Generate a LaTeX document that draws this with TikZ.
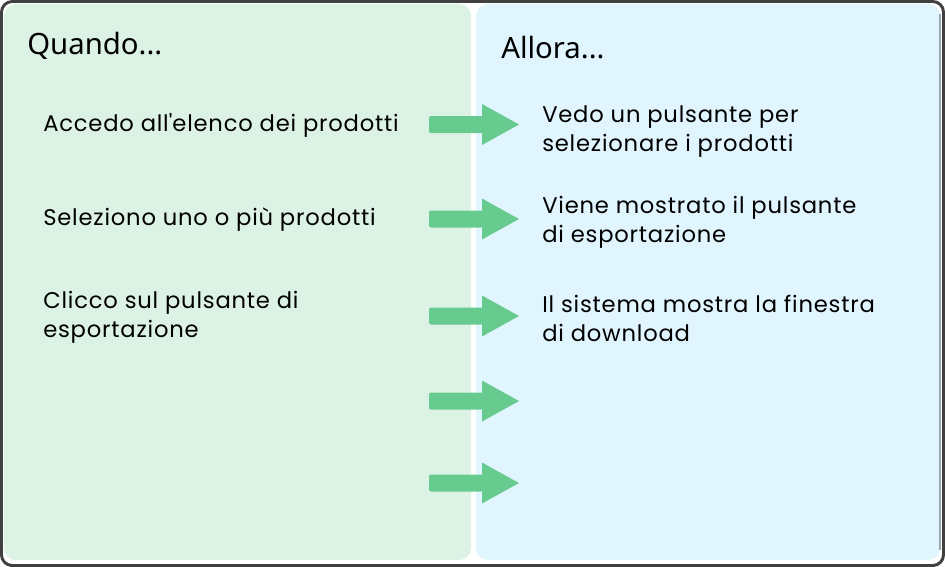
\documentclass[tikz,border=0pt]{standalone}
\usepackage{fontspec}
\setmainfont{Poppins}[LetterSpace=3.5]
\newfontfamily\headfont{Noto Sans}
\definecolor{framecol}{HTML}{404040}
\definecolor{greenpanel}{HTML}{DCF2E5}
\definecolor{bluepanel}{HTML}{E0F5FE}
\definecolor{arrowgreen}{HTML}{67CB8F}
\definecolor{edgegray}{HTML}{93A8B0}
\tikzset{
  panel/.style={rounded corners=9pt},
  heading/.style={anchor=base west, inner sep=0pt, font=\headfont\fontsize{22}{24}\selectfont, text=black},
  hand/.style={anchor=base west, inner sep=0pt, align=left, font=\fontsize{17}{21.75}\selectfont, text=black},
  garrow/.pic={
    \fill[arrowgreen, rounded corners=1.5pt] (-45,-8.5) rectangle (9,8.5);
    \fill[arrowgreen] (8,-20.5) -- (45,0) -- (8,20.5) -- cycle;
  }
}
\begin{document}
\begin{tikzpicture}[x=0.75pt, y=-0.75pt]
\useasboundingbox (0,0) rectangle (945,567);
\fill[white] (0,0) rectangle (945,567);
% outer frame
\draw[framecol, line width=2.2pt, rounded corners=8pt] (1.5,1.5) rectangle (943.5,565.5);
\draw[framecol, line width=1.2pt] (10,566.2) -- (935,566.2);
% panels
\fill[greenpanel, panel] (4,4) rectangle (471,560);
\fill[bluepanel, panel] (476,4) rectangle (940,560);
\draw[edgegray, line width=1.5pt] (940,14) -- (940,550);
% headings
\node[heading] (quando) at (27,55) {Quando...};
\node[heading] (allora) at (501,59) {Allora...};
% arrows
\pic at (474,124.5) {garrow};
\pic at (474,219) {garrow};
\pic at (474,316) {garrow};
\pic at (474,401) {garrow};
\pic at (474,483) {garrow};
% left texts (multi-line nodes: base = last line)
\node[hand] (w1) at (43,131) {Accedo all\textquotesingle elenco dei prodotti};
\node[hand] (w2) at (43,225) {Seleziono uno o più prodotti};
\node[hand] (w3) at (43,337) {Clicco sul pulsante di\\esportazione};
% right texts
\node[hand] (t1) at (542,151) {Vedo un pulsante per\\selezionare i prodotti};
\node[hand] (t2) at (542,242) {Viene mostrato il pulsante\\di esportazione};
\node[hand] (t3) at (542,341) {Il sistema mostra la finestra\\di download};
\end{tikzpicture}
\end{document}
